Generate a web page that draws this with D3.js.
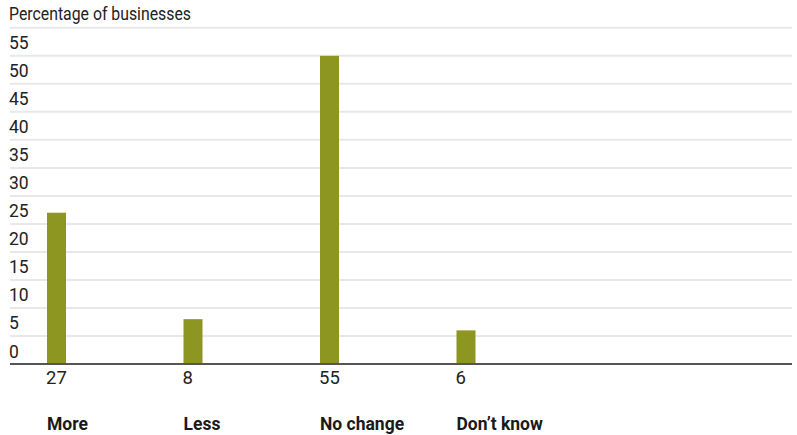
<!DOCTYPE html>
<html>
<head>
<meta charset="utf-8">
<script src="https://cdn.jsdelivr.net/npm/d3@7"></script>
<style>
  html, body { margin: 0; padding: 0; background: #fff; }
  svg { display: block; font-family: Roboto, "Liberation Sans", Arial, sans-serif; }
</style>
</head>
<body>
<svg id="chart" width="797" height="435"></svg>
<script>
// Survey responses: share of businesses by answer
const categories = ["More", "Less", "No change", "Don\u2019t know"];
const values = [27, 8, 55, 6];
const yTicks = [0, 5, 10, 15, 20, 25, 30, 35, 40, 45, 50, 55];
const gridValues = [5, 10, 15, 20, 25, 30, 35, 40, 45, 50, 55, 60];
const subtitle = "Percentage of businesses";

const svg = d3.select("#chart");
const left = 10, right = 792;

const y = d3.scaleLinear().domain([0, 60]).range([364, 27.8]);

const barW = 19, step = 136.5;
const x = d3.scaleBand()
  .domain(categories)
  .range([47, 47 + step * (categories.length - (1 - barW / step))])
  .paddingInner(1 - barW / step)
  .paddingOuter(0);

// subtitle
svg.append("text")
  .attr("x", left - 1).attr("y", 20)
  .attr("font-size", 17.5).attr("fill", "#222")
  .attr("textLength", 182).attr("lengthAdjust", "spacingAndGlyphs")
  .text(subtitle);

// gridlines
svg.append("g").selectAll("line").data(gridValues).join("line")
  .attr("x1", left).attr("x2", right)
  .attr("y1", d => y(d)).attr("y2", d => y(d))
  .attr("stroke", "#e8e8e8").attr("stroke-width", 2);

// tick labels sit just above their line
const yAxis = d3.axisLeft(y).tickValues(yTicks).tickSize(0).tickPadding(0);
const ag = svg.append("g").attr("transform", `translate(${left - 1},0)`).call(yAxis);
ag.select(".domain").remove();
ag.selectAll("text")
  .attr("text-anchor", "start").attr("x", 0).attr("dy", null).attr("y", -7)
  .attr("font-size", 17.5).attr("fill", "#222")
  .attr("font-family", "Roboto, 'Liberation Sans', Arial, sans-serif");

// bars
svg.append("g").selectAll("rect").data(values).join("rect")
  .attr("x", (d, i) => x(categories[i]))
  .attr("width", x.bandwidth())
  .attr("y", d => y(d))
  .attr("height", d => y(0) - y(d))
  .attr("fill", "#8c9620");

// baseline
svg.append("line")
  .attr("x1", left).attr("x2", right)
  .attr("y1", y(0)).attr("y2", y(0))
  .attr("stroke", "#555").attr("stroke-width", 2);

// value labels
svg.append("g").selectAll("text").data(values).join("text")
  .attr("x", (d, i) => x(categories[i]) - 1)
  .attr("y", 384)
  .attr("font-size", 18.5).attr("fill", "#222")
  .text(d => d);

// category labels
svg.append("g").selectAll("text").data(categories).join("text")
  .attr("x", d => x(d))
  .attr("y", 430)
  .attr("font-size", 17.5).attr("font-weight", "bold").attr("fill", "#1a1a1a")
  .text(d => d);
</script>
</body>
</html>
